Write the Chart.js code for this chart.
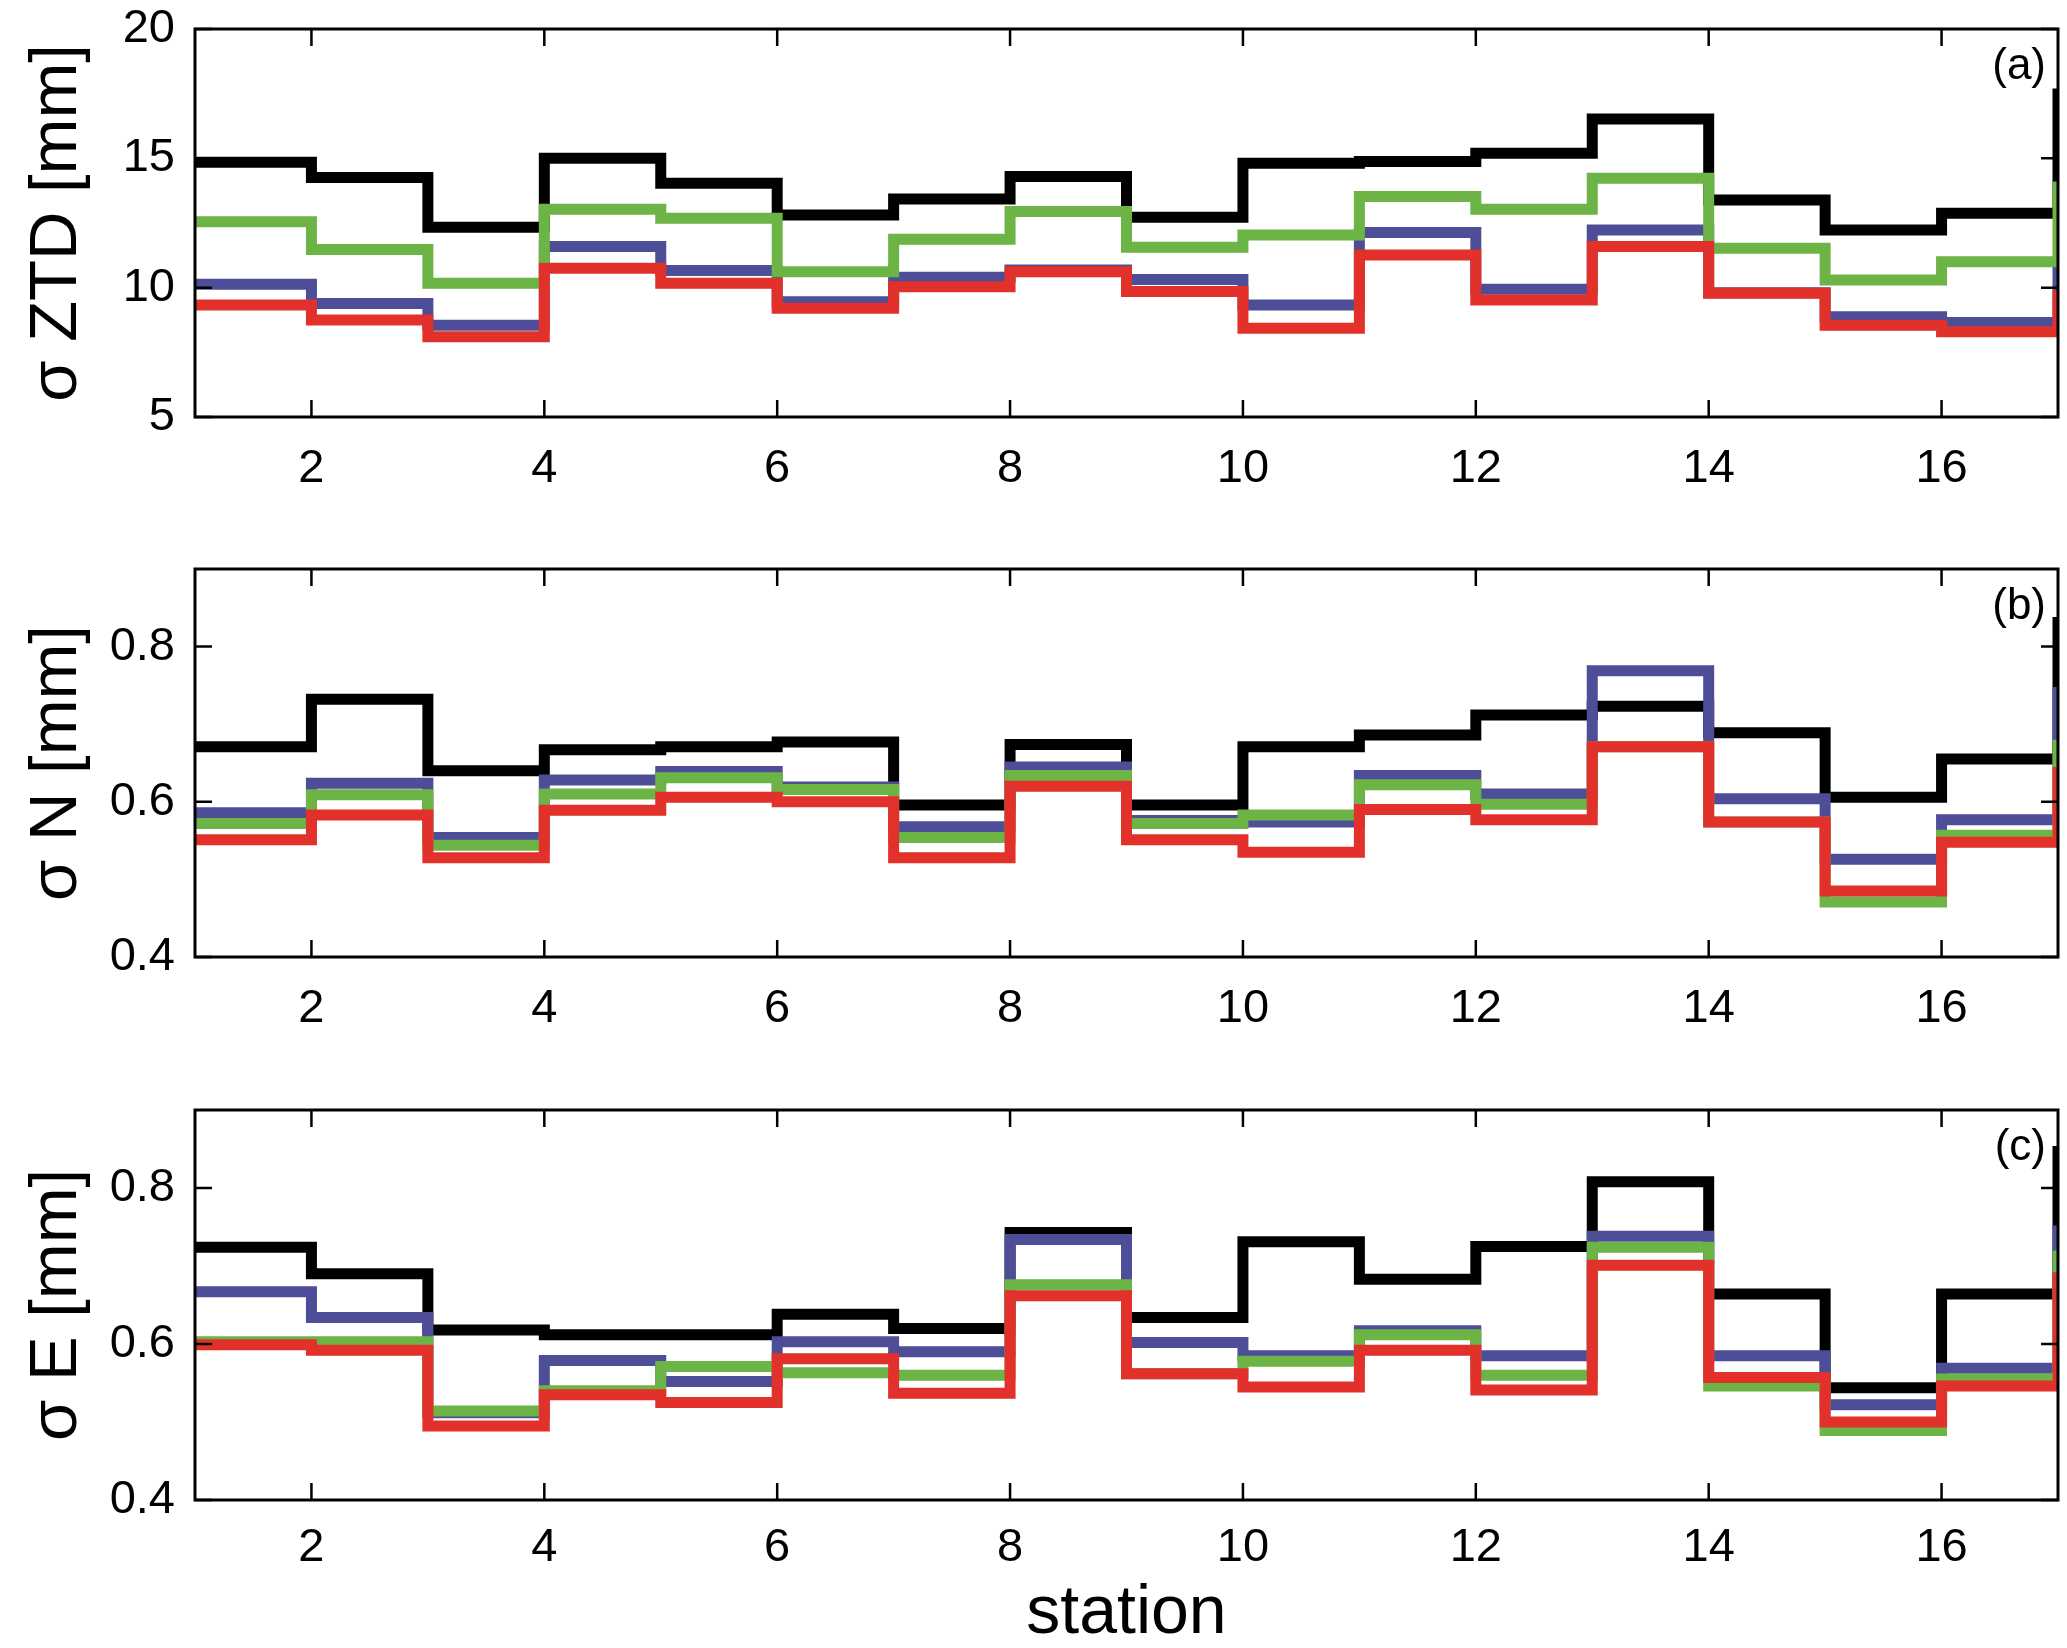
<!DOCTYPE html>
<html>
<head>
<meta charset="utf-8">
<script src="https://cdn.jsdelivr.net/npm/chart.js@4.4.1/dist/chart.umd.min.js"></script>
<style>
  body { margin: 0; background: #fff; }
  #wrap { position: relative; width: 2067px; height: 1648px; background: #fff; }
  canvas { position: absolute; left: 0; }
</style>
</head>
<body>
<div id="wrap">
  <canvas id="ztd" width="2067" height="540" style="top:0"></canvas>
  <canvas id="north" width="2067" height="540" style="top:540px"></canvas>
  <canvas id="east" width="2067" height="568" style="top:1080px"></canvas>
</div>
<script>
const stations = [1, 2, 3, 4, 5, 6, 7, 8, 9, 10, 11, 12, 13, 14, 15, 16, 17];
const xTicks = [2, 4, 6, 8, 10, 12, 14, 16];
const ztdTicks = [5, 10, 15, 20];
const neTicks = [0.4, 0.6, 0.8];

// sigma ZTD [mm]
const ztdBlack = [14.85, 14.26, 12.34, 15.0, 14.04, 12.81, 13.43, 14.30, 12.72, 14.81, 14.88, 15.2, 16.52, 13.39, 12.23, 12.88, 17.7];
const ztdBlue = [10.13, 9.39, 8.55, 11.59, 10.66, 9.46, 10.40, 10.68, 10.32, 9.33, 12.13, 9.94, 12.23, 9.80, 8.88, 8.65, 10.8];
const ztdGreen = [12.55, 11.48, 10.17, 13.03, 12.68, 10.62, 11.87, 12.94, 11.56, 12.04, 13.52, 13.03, 14.23, 11.52, 10.30, 11.0, 14.1];
const ztdRed = [9.33, 8.75, 8.10, 10.75, 10.17, 9.2, 10.04, 10.62, 9.85, 8.43, 11.26, 9.52, 11.59, 9.78, 8.55, 8.30, 9.9];

// sigma N [mm]
const nBlack = [0.671, 0.732, 0.640, 0.667, 0.671, 0.677, 0.596, 0.674, 0.596, 0.671, 0.686, 0.712, 0.723, 0.689, 0.606, 0.655, 0.838];
const nBlue = [0.586, 0.624, 0.554, 0.628, 0.639, 0.619, 0.568, 0.645, 0.576, 0.574, 0.634, 0.610, 0.769, 0.604, 0.526, 0.577, 0.748];
const nGreen = [0.572, 0.609, 0.544, 0.610, 0.631, 0.616, 0.554, 0.634, 0.572, 0.583, 0.622, 0.597, 0.671, 0.574, 0.471, 0.557, 0.680];
const nRed = [0.551, 0.583, 0.528, 0.589, 0.606, 0.600, 0.528, 0.620, 0.551, 0.535, 0.590, 0.577, 0.671, 0.574, 0.485, 0.548, 0.645];

// sigma E [mm]
const eBlack = [0.724, 0.690, 0.618, 0.612, 0.612, 0.638, 0.620, 0.743, 0.634, 0.731, 0.683, 0.725, 0.808, 0.664, 0.544, 0.664, 0.854];
const eBlue = [0.667, 0.634, 0.512, 0.579, 0.552, 0.603, 0.590, 0.734, 0.602, 0.585, 0.617, 0.585, 0.738, 0.585, 0.522, 0.569, 0.752];
const eGreen = [0.603, 0.603, 0.514, 0.540, 0.571, 0.563, 0.560, 0.676, 0.562, 0.578, 0.612, 0.560, 0.724, 0.546, 0.489, 0.555, 0.720];
const eRed = [0.599, 0.592, 0.495, 0.535, 0.525, 0.581, 0.537, 0.662, 0.562, 0.545, 0.592, 0.541, 0.701, 0.557, 0.500, 0.546, 0.692];

const colors = { black: '#000000', blue: '#4e4e98', green: '#6cb446', red: '#e2302a' };
const FONT = '"Liberation Sans", Arial, sans-serif';

Chart.defaults.font.family = FONT;
Chart.defaults.color = '#000';

const toPoints = (vals) => vals.map((v, i) => ({ x: stations[i], y: v }));

// box frame, inward ticks on all four sides, panel letter
const frameTicks = {
  id: 'frameTicks',
  afterDraw(chart, args, opts) {
    const { ctx, chartArea: a, scales } = chart;
    const len = 17;
    ctx.save();
    ctx.strokeStyle = '#000';
    ctx.lineWidth = 2.5;
    ctx.beginPath();
    scales.x.ticks.forEach((t) => {
      const px = scales.x.getPixelForValue(t.value);
      ctx.moveTo(px, a.bottom);
      ctx.lineTo(px, a.bottom - len);
      ctx.moveTo(px, a.top);
      ctx.lineTo(px, a.top + len);
    });
    scales.y.ticks.forEach((t) => {
      const py = scales.y.getPixelForValue(t.value);
      ctx.moveTo(a.left, py);
      ctx.lineTo(a.left + len, py);
      ctx.moveTo(a.right, py);
      ctx.lineTo(a.right - len, py);
    });
    ctx.stroke();
    ctx.lineWidth = 3;
    ctx.strokeRect(a.left, a.top, a.right - a.left, a.bottom - a.top);
    ctx.fillStyle = '#000';
    ctx.font = '44px ' + FONT;
    ctx.textAlign = 'right';
    ctx.textBaseline = 'top';
    ctx.fillText(opts.label, a.right - 12, a.top + 16);
    ctx.restore();
  },
};

function stairs(vals, color) {
  return {
    data: toPoints(vals),
    borderColor: color,
    borderWidth: 11,
    stepped: 'before',
    pointRadius: 0,
    fill: false,
    clip: 0,
    borderJoinStyle: 'miter',
    borderCapStyle: 'butt',
  };
}

function makePanel(id, p) {
  // dataset 0 is painted last, so red ends up on top
  return new Chart(document.getElementById(id), {
    type: 'line',
    data: {
      datasets: [
        stairs(p.red, colors.red),
        stairs(p.green, colors.green),
        stairs(p.blue, colors.blue),
        stairs(p.black, colors.black),
      ],
    },
    plugins: [frameTicks],
    options: {
      responsive: false,
      animation: false,
      devicePixelRatio: 1,
      events: [],
      layout: { padding: { top: p.top, right: 9, left: 0, bottom: 0 } },
      plugins: {
        legend: { display: false },
        tooltip: { enabled: false },
        frameTicks: { label: p.label },
      },
      scales: {
        x: {
          type: 'linear',
          min: 1,
          max: 17,
          bounds: 'data',
          afterFit: (s) => {
            s.height = p.xHeight;
            s.paddingLeft = 0;
            s.paddingRight = 0;
          },
          afterBuildTicks: (s) => { s.ticks = xTicks.map((v) => ({ value: v })); },
          grid: { display: false, drawTicks: false, tickLength: 0 },
          border: { display: false },
          ticks: { padding: p.xPad, font: { size: 47 }, color: '#000', maxRotation: 0, autoSkip: false },
          title: {
            display: !!p.xTitle,
            text: p.xTitle || '',
            color: '#000',
            font: { size: 68, lineHeight: 1 },
            padding: { top: 0, bottom: 0 },
          },
        },
        y: {
          min: p.yMin,
          max: p.yMax,
          bounds: 'data',
          afterFit: (s) => {
            s.width = 195;
            s.paddingTop = 0;
            s.paddingBottom = 0;
          },
          afterBuildTicks: (s) => { s.ticks = p.yTicks.map((v) => ({ value: v })); },
          grid: { display: false, drawTicks: false, tickLength: 0 },
          border: { display: false },
          ticks: { padding: 20, font: { size: 47 }, color: '#000', callback: p.fmt },
          title: {
            display: true,
            text: p.yTitle,
            color: '#000',
            font: { size: 67, lineHeight: 1 },
            padding: { top: 24, bottom: 0 },
          },
        },
      },
    },
  });
}

makePanel('ztd', {
  black: ztdBlack, blue: ztdBlue, green: ztdGreen, red: ztdRed,
  yMin: 5, yMax: 20, yTicks: ztdTicks, fmt: (v) => String(v),
  yTitle: 'σ ZTD [mm]', label: '(a)', top: 29, xHeight: 123, xPad: 24,
});

makePanel('north', {
  black: nBlack, blue: nBlue, green: nGreen, red: nRed,
  yMin: 0.4, yMax: 0.9, yTicks: neTicks, fmt: (v) => v.toFixed(1),
  yTitle: 'σ N [mm]', label: '(b)', top: 29, xHeight: 123, xPad: 24,
});

makePanel('east', {
  black: eBlack, blue: eBlue, green: eGreen, red: eRed,
  yMin: 0.4, yMax: 0.9, yTicks: neTicks, fmt: (v) => v.toFixed(1),
  yTitle: 'σ E [mm]', label: '(c)', top: 30, xHeight: 148, xPad: 20,
  xTitle: 'station',
});
</script>
</body>
</html>
